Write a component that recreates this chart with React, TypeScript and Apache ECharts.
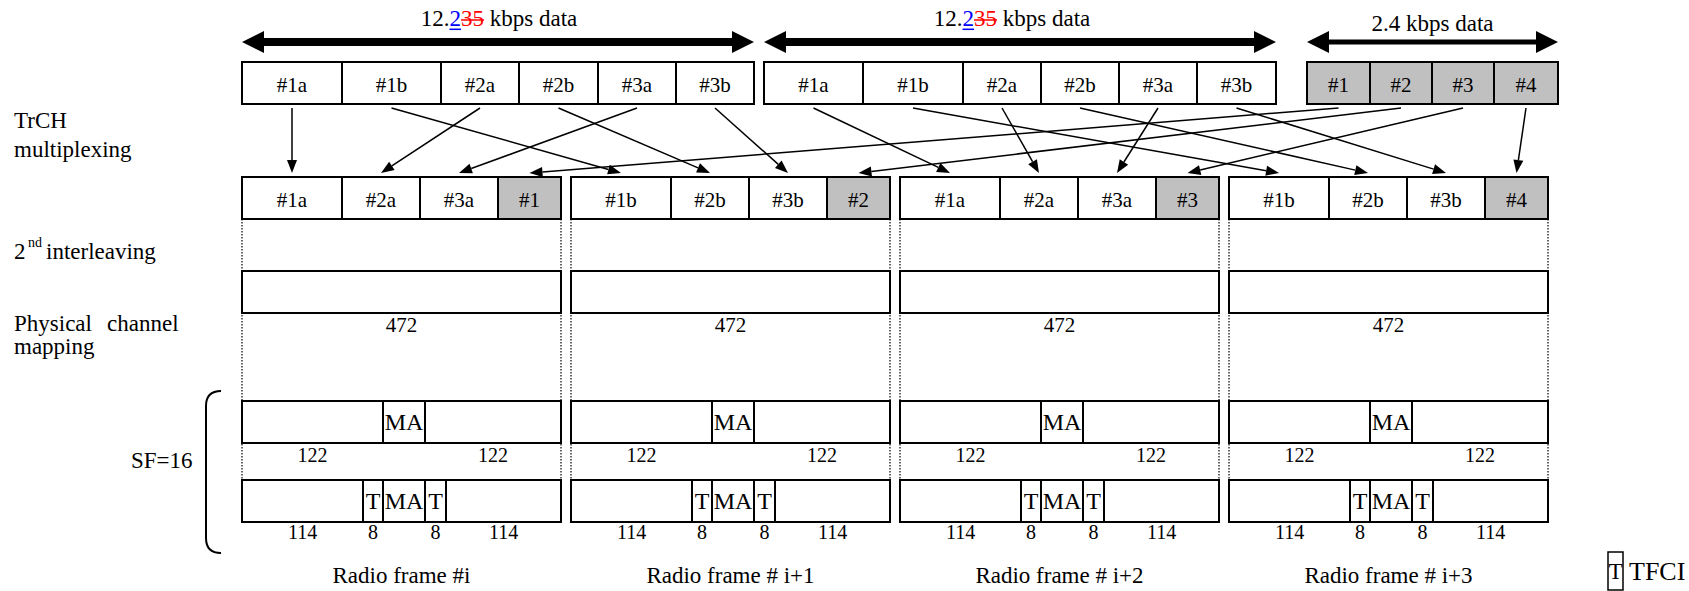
import React, { useEffect, useRef } from "react";
import * as echarts from "echarts";

// ---------------- data ----------------
const rateTexts: string[][] = [
  ["12.", "2", "35", " kbps data"],
  ["12.", "2", "35", " kbps data"],
  ["2.4 kbps data", "", "", ""],
];
const blockLabels: string[][] = [
  ["#1a", "#1b", "#2a", "#2b", "#3a", "#3b"],
  ["#1a", "#1b", "#2a", "#2b", "#3a", "#3b"],
  ["#1", "#2", "#3", "#4"],
];
const blockWidths: number[][] = [
  [100, 99, 78, 79, 78, 78],
  [99, 100, 78, 78, 78, 79],
  [63, 62, 62, 64],
];
const blockShaded = [false, false, true];
const frameBlockLabels: string[][] = [
  ["#1a", "#2a", "#3a", "#1"],
  ["#1b", "#2b", "#3b", "#2"],
  ["#1a", "#2a", "#3a", "#3"],
  ["#1b", "#2b", "#3b", "#4"],
];
const frameBlockWidths = [100, 78, 78, 63];
const frameBlockShaded = [false, false, false, true];
// [source group, source block, target frame, target block]
const muxMap: number[][] = [
  [0, 0, 0, 0], [0, 1, 1, 0], [0, 2, 0, 1], [0, 3, 1, 1], [0, 4, 0, 2], [0, 5, 1, 2],
  [1, 0, 2, 0], [1, 1, 3, 0], [1, 2, 2, 1], [1, 3, 3, 1], [1, 4, 2, 2], [1, 5, 3, 2],
  [2, 0, 0, 3], [2, 1, 1, 3], [2, 2, 2, 3], [2, 3, 3, 3],
];
const physLabels = ["472", "472", "472", "472"];
const maSlotLabels = ["", "MA", ""];
const maSlotWidths = [141, 42, 136];
const maSlotBelow = ["122", "", "122"];
const tSlotLabels = ["", "T", "MA", "T", ""];
const tSlotWidths = [121, 20, 42, 21, 115];
const tSlotBelow = ["114", "8", "", "8", "114"];
const frameNames = ["Radio frame #i", "Radio frame # i+1", "Radio frame # i+2", "Radio frame # i+3"];
const stageTexts = ["TrCH", "multiplexing", "2", "nd", "interleaving", "Physical", "channel", "mapping", "SF=16"];
const legendTexts = ["T", "TFCI"];

// ---------------- layout ----------------
const W = 1689;
const H = 591;
const FONT = '"Liberation Serif", "Times New Roman", Times, serif';
const GRAY = "#c0c0c0";
const GROUP_X = [242, 764, 1307];
const FRAME_X0 = 242;
const FRAME_PITCH = 329;
const ROW1 = [62, 104];
const ROW2 = [177, 219];
const ROW_PHY = [271, 313];
const ROW_MA = [401, 443];
const ROW_T = [480, 522];
const SPAN_Y = 42;
const RATE_Y = [18.5, 18.5, 23.5];
const RATE_DX = [1, -8, 0];
const SPAN_T = [8, 8, 5];
const ARROW_Y0 = 108;
const ARROW_Y1 = 173;
const Y_PHY_LABEL = 324.5;
const Y_MA_LABEL = 455;
const Y_T_LABEL = 532;
const Y_NAME = 575;
const stagePos: number[][] = [
  [14, 120.5, 23], [14, 149, 23], [14, 251.5, 23], [28, 242, 14], [46, 251.5, 23],
  [14, 323, 23], [107, 323, 23], [14, 346.5, 23], [131, 460.5, 23],
];
const BRACE_D = "M 221 391 C 211 391 206 396 206 406 L 206 538 C 206 548 211 553 221 553";

try {
  echarts.graphic.registerShape("brace", echarts.graphic.extendPath(BRACE_D, {}));
} catch (e) {
  /* already registered */
}

type Box = { x0: number; x1: number; y0: number; y1: number; label: string; fill: string; size: number; dy: number };
type Txt = { x: number; y: number; text: string; size: number };

function buildModel() {
  const boxes: Box[] = [];
  const texts: Txt[] = [];
  const guides: number[][] = [];
  const arrows: number[][] = [];
  const spans: number[][] = [];
  const blockCenters: number[][] = [];
  blockWidths.forEach((ws, g) => {
    let x = GROUP_X[g];
    const cs: number[] = [];
    ws.forEach((w, i) => {
      boxes.push({ x0: x, x1: x + w, y0: ROW1[0], y1: ROW1[1], label: blockLabels[g][i], fill: blockShaded[g] ? GRAY : "#fff", size: 21, dy: 2 });
      cs.push(x + w / 2);
      x += w;
    });
    blockCenters.push(cs);
    spans.push([GROUP_X[g], x, SPAN_Y]);
  });
  const frameW = frameBlockWidths.reduce((a, b) => a + b, 0);
  const frameCenters: number[][] = [];
  frameBlockLabels.forEach((labels, f) => {
    const fx = FRAME_X0 + f * FRAME_PITCH;
    let x = fx;
    const cs: number[] = [];
    frameBlockWidths.forEach((w, j) => {
      boxes.push({ x0: x, x1: x + w, y0: ROW2[0], y1: ROW2[1], label: labels[j], fill: frameBlockShaded[j] ? GRAY : "#fff", size: 21, dy: 2 });
      cs.push(x + w / 2);
      x += w;
    });
    frameCenters.push(cs);
    boxes.push({ x0: fx, x1: fx + frameW, y0: ROW_PHY[0], y1: ROW_PHY[1], label: "", fill: "#fff", size: 21, dy: 0 });
    texts.push({ x: fx + frameW / 2, y: Y_PHY_LABEL, text: physLabels[f], size: 21 });
    x = fx;
    maSlotWidths.forEach((w, k) => {
      boxes.push({ x0: x, x1: x + w, y0: ROW_MA[0], y1: ROW_MA[1], label: maSlotLabels[k], fill: "#fff", size: 24, dy: 0 });
      if (maSlotBelow[k]) texts.push({ x: x + w / 2, y: Y_MA_LABEL, text: maSlotBelow[k], size: 20 });
      x += w;
    });
    x = fx;
    tSlotWidths.forEach((w, k) => {
      boxes.push({ x0: x, x1: x + w, y0: ROW_T[0], y1: ROW_T[1], label: tSlotLabels[k], fill: "#fff", size: 24, dy: 0 });
      if (tSlotBelow[k]) texts.push({ x: x + w / 2, y: Y_T_LABEL, text: tSlotBelow[k], size: 20 });
      x += w;
    });
    texts.push({ x: fx + frameW / 2, y: Y_NAME, text: frameNames[f], size: 23 });
    guides.push([fx, ROW2[1], ROW_T[0]]);
    guides.push([fx + frameW, ROW2[1], ROW_T[0]]);
  });
  muxMap.forEach(([g, i, f, j]) => {
    arrows.push([blockCenters[g][i], ARROW_Y0, frameCenters[f][j], ARROW_Y1]);
  });
  return { boxes, texts, guides, arrows, spans };
}

let measureCtx: CanvasRenderingContext2D | null = null;
function measure(text: string, font: string): number {
  if (!measureCtx) measureCtx = document.createElement("canvas").getContext("2d");
  if (!measureCtx) return text.length * 10;
  measureCtx.font = font;
  return measureCtx.measureText(text).width;
}

function buildOption() {
  const { boxes, texts, guides, arrows, spans } = buildModel();

  const graphic: any[] = [];
  stageTexts.forEach((t, i) => {
    const [x, y, s] = stagePos[i];
    graphic.push({
      type: "text",
      x,
      y,
      silent: true,
      style: { text: t, font: `${s}px ${FONT}`, fill: "#000", align: "left", verticalAlign: "middle" },
    });
  });
  graphic.push({ type: "brace", x: 0, y: 0, silent: true, style: { fill: "none", stroke: "#000", lineWidth: 2 } });
  graphic.push({ type: "rect", shape: { x: 1608, y: 552, width: 15, height: 38 }, silent: true, style: { fill: "#fff", stroke: "#000", lineWidth: 1.5 } });
  graphic.push({ type: "text", x: 1615.5, y: 571, silent: true, style: { text: legendTexts[0], font: `23px ${FONT}`, fill: "#000", align: "center", verticalAlign: "middle" } });
  graphic.push({ type: "text", x: 1629, y: 571, silent: true, style: { text: legendTexts[1], font: `26px ${FONT}`, fill: "#000", align: "left", verticalAlign: "middle" } });

  return {
    animation: false,
    backgroundColor: "#fff",
    grid: { left: 0, right: 0, top: 0, bottom: 0 },
    xAxis: { type: "value", min: 0, max: W, show: false },
    yAxis: { type: "value", min: 0, max: H, inverse: true, show: false },
    graphic,
    series: [
      {
        type: "custom",
        name: "guides",
        silent: true,
        data: guides,
        renderItem: (params: any, api: any) => {
          const a = api.coord([api.value(0), api.value(1)]);
          const b = api.coord([api.value(0), api.value(2)]);
          return {
            type: "line",
            shape: { x1: a[0], y1: a[1], x2: b[0], y2: b[1] },
            style: { stroke: "#000", lineWidth: 1.2, lineDash: [1.5, 1.5] },
          };
        },
      },
      {
        type: "custom",
        name: "blocks",
        silent: true,
        data: boxes.map((b) => [b.x0, b.y0, b.x1, b.y1]),
        renderItem: (params: any, api: any) => {
          const b = boxes[params.dataIndex];
          const p0 = api.coord([api.value(0), api.value(1)]);
          const p1 = api.coord([api.value(2), api.value(3)]);
          const x = Math.min(p0[0], p1[0]);
          const y = Math.min(p0[1], p1[1]);
          const w = Math.abs(p1[0] - p0[0]);
          const h = Math.abs(p1[1] - p0[1]);
          const children: any[] = [
            { type: "rect", shape: { x, y, width: w, height: h }, style: { fill: b.fill, stroke: "#000", lineWidth: 2 } },
          ];
          if (b.label) {
            children.push({
              type: "text",
              x: x + w / 2,
              y: y + h / 2 + b.dy,
              style: { text: b.label, font: `${b.size}px ${FONT}`, fill: "#000", align: "center", verticalAlign: "middle" },
            });
          }
          return { type: "group", children };
        },
      },
      {
        type: "custom",
        name: "labels",
        silent: true,
        data: texts.map((t) => [t.x, t.y]),
        renderItem: (params: any, api: any) => {
          const t = texts[params.dataIndex];
          const p = api.coord([api.value(0), api.value(1)]);
          return {
            type: "text",
            x: p[0],
            y: p[1],
            style: { text: t.text, font: `${t.size}px ${FONT}`, fill: "#000", align: "center", verticalAlign: "middle" },
          };
        },
      },
      {
        type: "custom",
        name: "multiplexing",
        silent: true,
        data: arrows,
        renderItem: (params: any, api: any) => {
          const s = api.coord([api.value(0), api.value(1)]);
          const e = api.coord([api.value(2), api.value(3)]);
          const dx = e[0] - s[0];
          const dy = e[1] - s[1];
          const len = Math.hypot(dx, dy) || 1;
          const ux = dx / len;
          const uy = dy / len;
          const L = 13;
          const hw = 5;
          const bx = e[0] - ux * L;
          const by = e[1] - uy * L;
          const nx = -uy;
          const ny = ux;
          return {
            type: "group",
            children: [
              { type: "line", shape: { x1: s[0], y1: s[1], x2: bx, y2: by }, style: { stroke: "#000", lineWidth: 1.5 } },
              {
                type: "polygon",
                shape: { points: [[e[0], e[1]], [bx + nx * hw, by + ny * hw], [bx - nx * hw, by - ny * hw]] },
                style: { fill: "#000" },
              },
            ],
          };
        },
      },
      {
        type: "custom",
        name: "rates",
        silent: true,
        data: spans,
        renderItem: (params: any, api: any) => {
          const g = params.dataIndex;
          const a = api.coord([api.value(0), api.value(2)]);
          const b = api.coord([api.value(1), api.value(2)]);
          const y = a[1];
          const x0 = a[0];
          const x1 = b[0];
          const L = 22;
          const HH = 11;
          const t = SPAN_T[g] / 2;
          const children: any[] = [
            {
              type: "polygon",
              shape: {
                points: [
                  [x0, y], [x0 + L, y - HH], [x0 + L, y - t], [x1 - L, y - t], [x1 - L, y - HH],
                  [x1, y], [x1 - L, y + HH], [x1 - L, y + t], [x0 + L, y + t], [x0 + L, y + HH],
                ],
              },
              style: { fill: "#000" },
            },
          ];
          const [pre, ins, del, post] = rateTexts[g];
          const font = `23px ${FONT}`;
          const cx = (x0 + x1) / 2 + RATE_DX[g];
          const ty = api.coord([0, RATE_Y[g]])[1];
          if (ins || del) {
            const wPre = measure(pre, font);
            const wIns = measure(ins, font);
            const wDel = measure(del, font);
            const wPost = measure(post, font);
            const left = cx - (wPre + wIns + wDel + wPost) / 2;
            children.push({
              type: "text",
              x: cx,
              y: ty,
              style: {
                text: `${pre}{ins|${ins}}{del|${del}}${post}`,
                font,
                fill: "#000",
                align: "center",
                verticalAlign: "middle",
                rich: {
                  ins: { font, fill: "#0000ff" },
                  del: { font, fill: "#ff0000" },
                },
              },
            });
            children.push({
              type: "line",
              shape: { x1: left + wPre, y1: ty + 10.8, x2: left + wPre + wIns, y2: ty + 10.8 },
              style: { stroke: "#0000ff", lineWidth: 1.5 },
            });
            children.push({
              type: "line",
              shape: { x1: left + wPre + wIns, y1: ty + 1.5, x2: left + wPre + wIns + wDel, y2: ty + 1.5 },
              style: { stroke: "#ff0000", lineWidth: 1.5 },
            });
          } else {
            children.push({
              type: "text",
              x: cx,
              y: ty,
              style: { text: pre, font, fill: "#000", align: "center", verticalAlign: "middle" },
            });
          }
          return { type: "group", children };
        },
      },
    ],
  };
}

export default function App() {
  const ref = useRef<HTMLDivElement>(null);
  useEffect(() => {
    if (!ref.current) return;
    const chart = echarts.init(ref.current, undefined, { renderer: "svg" });
    chart.setOption(buildOption() as any);
    return () => {
      chart.dispose();
    };
  }, []);
  return (
    <div
      ref={ref}
      style={{ position: "fixed", left: 0, top: 0, width: W, height: H, background: "#fff" }}
    />
  );
}
